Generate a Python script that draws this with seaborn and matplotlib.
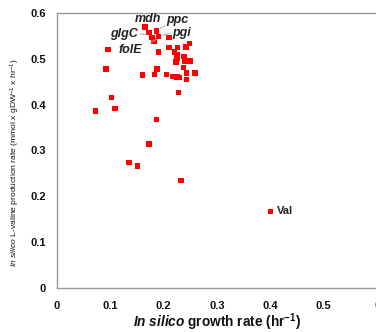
import numpy as np
import pandas as pd
import matplotlib
matplotlib.use("Agg")
import matplotlib.pyplot as plt
import seaborn as sns

# in silico growth rate (hr^-1) and L-valine production rate for each knockout
growth = [0.165, 0.173, 0.187, 0.178, 0.182, 0.190, 0.210, 0.096, 0.190, 0.210,
          0.226, 0.242, 0.249, 0.221, 0.225, 0.238, 0.225, 0.223, 0.240, 0.251,
          0.092, 0.188, 0.237, 0.243, 0.259, 0.161, 0.183, 0.206, 0.218, 0.225,
          0.229, 0.243, 0.228, 0.103, 0.109, 0.072, 0.187, 0.173, 0.135, 0.151,
          0.233, 0.400]
valine = [0.569, 0.557, 0.561, 0.547, 0.539, 0.549, 0.546, 0.520, 0.515, 0.524,
          0.524, 0.526, 0.534, 0.515, 0.510, 0.505, 0.500, 0.493, 0.495, 0.495,
          0.478, 0.478, 0.481, 0.469, 0.469, 0.465, 0.466, 0.466, 0.462, 0.460,
          0.459, 0.455, 0.427, 0.415, 0.391, 0.386, 0.367, 0.314, 0.274, 0.266,
          0.234, 0.167]

gene_labels = ["mdh", "ppc", "glgC", "pgi", "folE"]
xticks = [0, 0.1, 0.2, 0.3, 0.4, 0.5, 0.6]
xtick_labels = ["0", "0.1", "0.2", "0.3", "0.4", "0.5", "0"]
yticks = [0, 0.1, 0.2, 0.3, 0.4, 0.5, 0.6]
ytick_labels = ["0", "0.1", "0.2", "0.3", "0.4", "0.5", "0.6"]

df = pd.DataFrame({"growth": growth, "valine": valine})

sns.set_style("white")
plt.rcParams["font.family"] = ["Liberation Sans", "DejaVu Sans"]
plt.rcParams["mathtext.fontset"] = "custom"
plt.rcParams["mathtext.rm"] = "Liberation Sans"
plt.rcParams["mathtext.it"] = "Liberation Sans:italic"
plt.rcParams["mathtext.bf"] = "Liberation Sans:bold"
plt.rcParams["mathtext.bfit"] = "Liberation Sans:italic:bold"

fig = plt.figure(figsize=(3.76, 3.32), dpi=100)
ax = fig.add_axes([0.151, 0.1325, 0.852, 0.8285])

sns.scatterplot(data=df, x="growth", y="valine", ax=ax, marker="s", s=15,
                color="#ff0000", edgecolor="none", linewidth=0)

ax.set_xlim(0, 0.6)
ax.set_ylim(0, 0.6)
ax.set_xticks(xticks)
ax.set_xticklabels(xtick_labels)
ax.set_yticks(yticks)
ax.set_yticklabels(ytick_labels)
ax.tick_params(axis="both", direction="out", length=3, width=0.8,
               color="#999999", labelsize=8, labelcolor="#111111")
ax.tick_params(axis="x", pad=6)
ax.tick_params(axis="y", pad=5)
for lab in ax.get_xticklabels() + ax.get_yticklabels():
    lab.set_fontweight("bold")

for side in ["left", "bottom", "top", "right"]:
    ax.spines[side].set_color("#999999")
    ax.spines[side].set_linewidth(1.0)
    ax.spines[side].set_visible(True)

ax.set_xlabel(r"$\mathbfit{In\ silico}$ growth rate (hr$^{\mathbf{-1}}$)",
              fontsize=9.8, fontweight="bold", color="#111111", labelpad=1)
ax.set_ylabel(r"$\mathit{In\ silico}$ L-valine production rate (mmol x gDW$^{-1}$ x hr$^{-1}$)",
              fontsize=6.1, color="#111111")
ax.yaxis.set_label_coords(-0.108, 0.455)

# gene labels with short gray leader lines
label_pos = {
    "mdh": ((0.171, 0.586), None),
    "ppc": ((0.226, 0.585), ((0.193, 0.566), (0.203, 0.572))),
    "glgC": ((0.125, 0.555), ((0.156, 0.554), (0.168, 0.553))),
    "pgi": ((0.234, 0.556), ((0.200, 0.552), (0.212, 0.556))),
    "folE": ((0.137, 0.520), ((0.175, 0.535), (0.187, 0.543))),
}
for name in gene_labels:
    (tx, ty), leader = label_pos[name]
    ax.text(tx, ty, name, fontsize=9, fontstyle="italic", fontweight="bold",
            color="#222222", ha="center", va="center")
    if leader is not None:
        (x0, y0), (x1, y1) = leader
        ax.plot([x0, x1], [y0, y1], color="#aaaaaa", lw=0.7)

ax.text(growth[-1] + 0.013, valine[-1], "Val", fontsize=8, fontweight="bold",
        color="#222222", ha="left", va="center")

fig.savefig("out.png", dpi=100)
